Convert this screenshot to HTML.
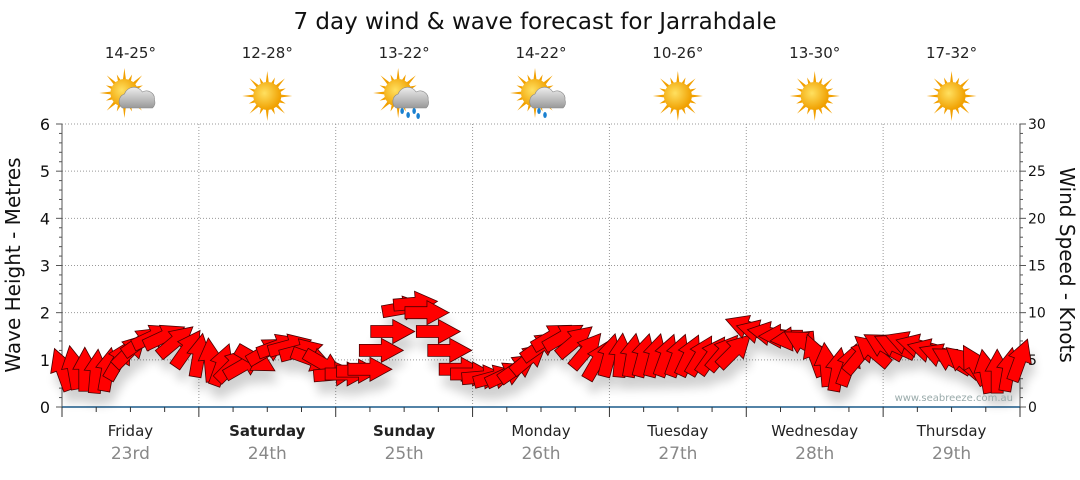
<!DOCTYPE html>
<html><head><meta charset="utf-8"><style>
body{margin:0;background:#fff;width:1080px;height:475px;overflow:hidden;font-family:"Liberation Sans",sans-serif}
text{font-family:"DejaVu Sans","Liberation Sans",sans-serif}
</style></head><body>
<svg id="c" width="1080" height="475" viewBox="0 0 1080 475" xmlns="http://www.w3.org/2000/svg">
<defs>
<filter id="sh" x="-50%" y="-50%" width="200%" height="200%"><feGaussianBlur stdDeviation="5"/></filter>
<radialGradient id="sun" cx="40%" cy="40%" r="60%"><stop offset="0" stop-color="#ffe060"/><stop offset="1" stop-color="#f0a000"/></radialGradient>
<linearGradient id="cl" x1="0" y1="0" x2="0" y2="1"><stop offset="0" stop-color="#eee"/><stop offset="1" stop-color="#999"/></linearGradient>
</defs>
<text x="535" y="29" text-anchor="middle" font-size="23" fill="#111">7 day wind &amp; wave forecast for Jarrahdale</text>
<g id="grid"></g><g id="axes"></g><g id="top"></g><g id="shadows" filter="url(#sh)" opacity="0.18"></g><g id="arrows"></g>
<text x="1013" y="401" text-anchor="end" font-size="10" fill="#9aa">www.seabreeze.com.au</text>
<text transform="translate(20,265) rotate(-90)" text-anchor="middle" font-size="20" fill="#111">Wave Height - Metres</text>
<text transform="translate(1060,265) rotate(90)" text-anchor="middle" font-size="20" fill="#111">Wind Speed - Knots</text>
</svg>
<script>
const days=["Friday","Saturday","Sunday","Monday","Tuesday","Wednesday","Thursday"];
const dates=["23rd","24th","25th","26th","27th","28th","29th"];
const temps=["14-25°","12-28°","13-22°","14-22°","10-26°","13-30°","17-32°"];
const weather=["cloud","sun","rain","showers","sun","sun","sun"];
const boldDays=[false,true,true,false,false,false,false];
const waveTicks=[0,1,2,3,4,5,6];
const windTicks=[0,5,10,15,20,25,30];
// wind every 2 hours: speed in knots, direction the arrow points (deg, 0=east, -90=north)
const windSpeed=[4,4.2,4,3.8,4,5,6,7,7.5,7.5,7,6.2,
5.5,5,4.5,4.5,4.5,5,6,6.5,6.5,6,5,4.5,
3.5,3.5,3.8,4,6,8,10.5,11,10,8,6,4,
3.5,3.2,3.2,3.5,4.2,5.2,6.5,7.5,7.5,7,6,5,
5.5,5.5,5.5,5.5,5.5,5.5,5.5,5.5,5.5,5.5,5.8,6,
8.5,8,7.8,7.5,7.2,6.8,5.5,4.5,4,4.5,5.5,6,
6.5,6.5,6.8,6.5,6,5.5,5,4.8,4.5,3.8,3.8,4,5];
const windDir=[-110,-100,-90,-85,-80,-60,-45,-35,-25,-25,-40,-55,
-80,-95,-70,-45,-30,30,-30,-20,-15,-15,20,30,
-5,0,0,0,0,0,-10,-5,0,0,0,0,
0,-5,-15,-25,-35,-40,-35,-30,-30,-40,-50,-60,
-75,-85,-80,-75,-75,-70,-70,-65,-60,-55,-50,-45,
-160,-165,-170,180,175,-150,-110,-95,-80,-70,-50,-140,
-150,-155,-160,-165,-165,-160,-150,-140,-120,-100,-90,-80,-70];
const X0=62,X1=1020,Y0=407,Y1=124,NS="http://www.w3.org/2000/svg";
const xT=h=>X0+(X1-X0)*h/168, yW=v=>Y0-(Y0-Y1)*v/6, yK=v=>Y0-(Y0-Y1)*v/30;
function mk(t,a,p){const e=document.createElementNS(NS,t);for(const k in a)e.setAttribute(k,a[k]);(p||document.getElementById('c')).appendChild(e);return e;}
const G=document.getElementById('grid'),A=document.getElementById('axes'),T=document.getElementById('top'),S=document.getElementById('shadows'),R=document.getElementById('arrows');
waveTicks.forEach(v=>{if(v>0){const l=mk('line',{x1:X0,x2:X1,y1:yW(v),y2:yW(v),stroke:'#999','stroke-dasharray':'1,2'},G);}
const t=mk('text',{x:50,y:yW(v)+6,'text-anchor':'end','font-size':16,fill:'#111'},A);t.textContent=v;});
windTicks.forEach(v=>{const t=mk('text',{x:1028,y:yK(v)+5,'font-size':14,fill:'#111'},A);t.textContent=v;});
for(let k=0;k<=30;k++){const y=Y0-(Y0-Y1)*k/30;mk('line',{x1:X0-(k%5?3:6),x2:X0,y1:y,y2:y,stroke:'#555'},A);mk('line',{x1:X1,x2:X1+(k%5?3:6),y1:y,y2:y,stroke:'#555'},A);}
mk('line',{x1:X0,x2:X0,y1:Y1,y2:Y0,stroke:'#555'},A);mk('line',{x1:X1,x2:X1,y1:Y1,y2:Y0,stroke:'#555'},A);
const bx=mk('line',{x1:X0,x2:X1,y1:Y0,y2:Y0,stroke:'#1a5a8a','stroke-width':1.5},A);
for(let h=0;h<=168;h+=6){const x=xT(h);mk('line',{x1:x,x2:x,y1:Y0,y2:Y0+(h%24?5:10),stroke:'#333'},A);}
days.forEach((d,i)=>{const x0=xT(i*24),xc=xT(i*24+12);
if(i>0){const l=mk('line',{x1:x0,x2:x0,y1:Y1,y2:Y0,stroke:'#999','stroke-dasharray':'1,2'},G);}
const t=mk('text',{x:xc,y:436,'text-anchor':'middle','font-size':15,fill:'#222','font-weight':boldDays[i]?'bold':'normal'},A);t.textContent=d;
const t2=mk('text',{x:xc,y:459,'text-anchor':'middle','font-size':17,fill:'#888'},A);t2.textContent=dates[i];
const t3=mk('text',{x:xc,y:58,'text-anchor':'middle','font-size':15,fill:'#222'},T);t3.textContent=temps[i];
const g=mk('g',{transform:`translate(${xc},96)`},T);
const sx=weather[i]=='sun'?0:-6,sy=weather[i]=='sun'?0:-3;
for(let a=0;a<360;a+=22.5){const r=a*Math.PI/180,l=a%45?20:25;mk('polygon',{points:`${sx+Math.cos(r)*l},${sy+Math.sin(r)*l} ${sx+Math.cos(r+0.12)*13},${sy+Math.sin(r+0.12)*13} ${sx+Math.cos(r-0.12)*13},${sy+Math.sin(r-0.12)*13}`,fill:'#f2a000'},g);}
mk('circle',{cx:sx,cy:sy,r:14,fill:'url(#sun)'},g);
if(weather[i]!='sun'){mk('path',{d:'M-8,12 a8,8 0 0 1 2,-14 a10,10 0 0 1 18,-2 a8,8 0 0 1 12,8 a7,7 0 0 1 -2,8 z',fill:'url(#cl)',stroke:'#888','stroke-width':0.6},g);
if(weather[i]=='rain'||weather[i]=='showers'){[[-2,15],[4,19],[10,15],[14,20]].slice(0,weather[i]=='rain'?4:2).forEach(p=>mk('ellipse',{cx:p[0],cy:p[1],rx:1.8,ry:3,fill:'#1a80d0'},g));}}
});
const arrowPts="-22,-6 0,-6 0,-12 22,0 0,12 0,6 -22,6";
windSpeed.forEach((s,i)=>{const x=xT(i*2),y=yK(s),d=windDir[i];
mk('polygon',{points:arrowPts,fill:'#000',transform:`translate(${x+4},${y+12}) rotate(${d})`},S);
const p=mk('polygon',{points:arrowPts,fill:'#ff0000',stroke:'#4a0000','stroke-width':0.8,transform:`translate(${x},${y}) rotate(${d})`},R);

});
</script>
</body></html>
